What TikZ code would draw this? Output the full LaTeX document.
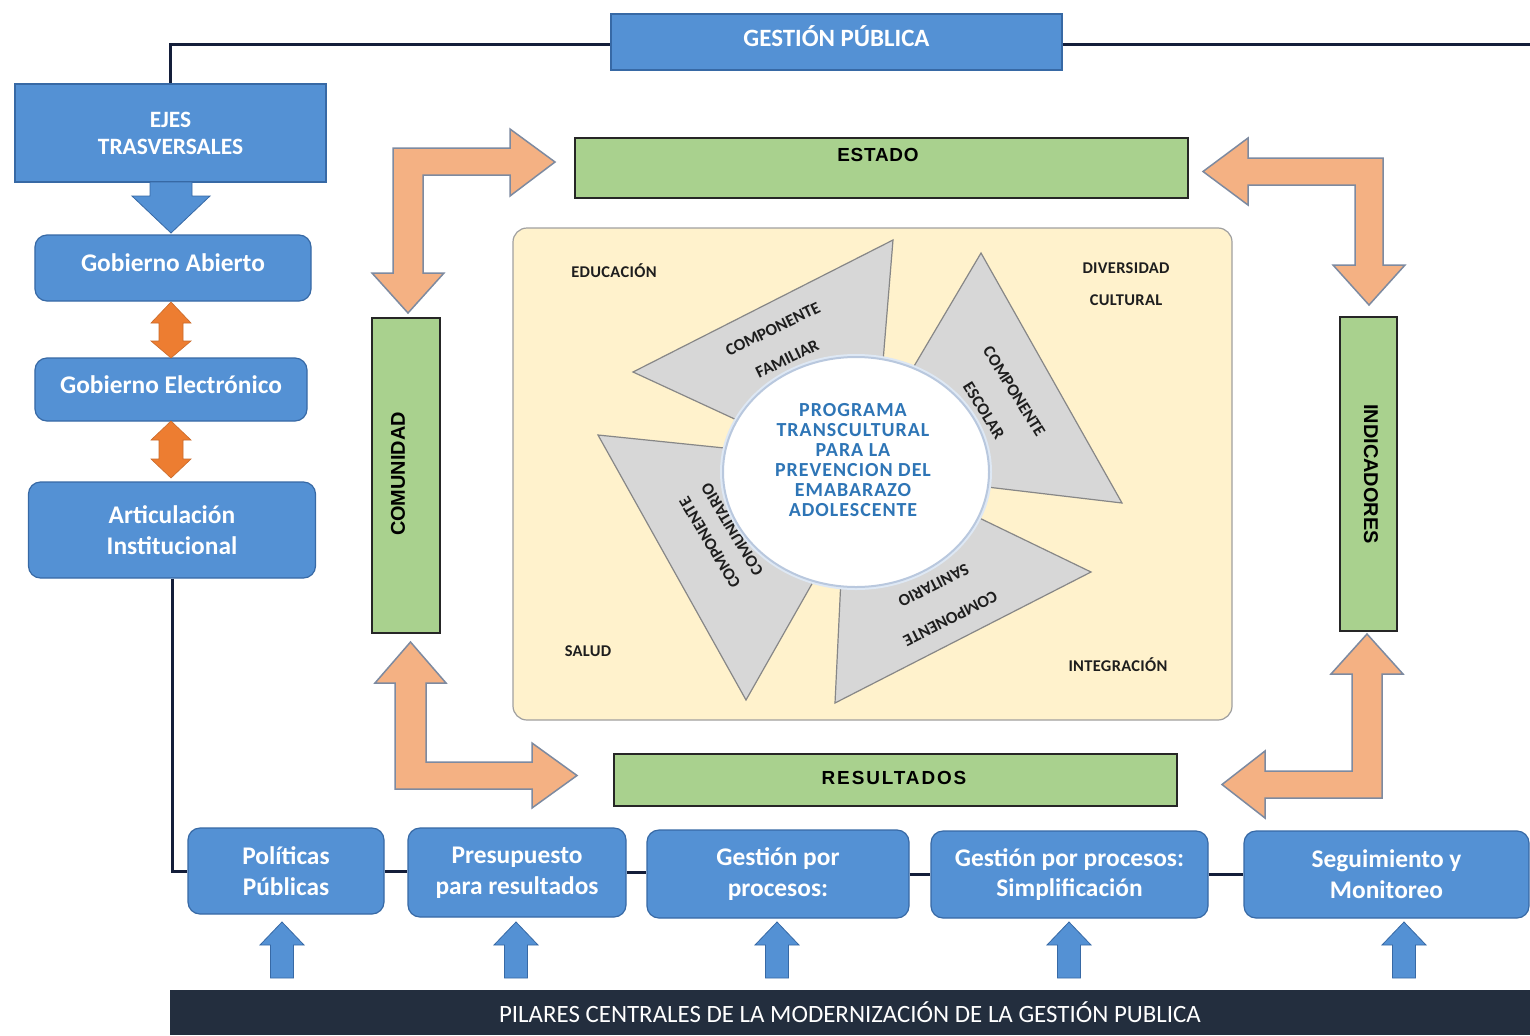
\documentclass[tikz,border=0pt]{standalone}
\usepackage{fontspec}
\setmainfont{Carlito}
\newfontfamily\progfont{Carlito}[LetterSpace=5]
\newfontfamily\panelfont{Carlito}[LetterSpace=2]
\newfontfamily\greenfont{Liberation Sans}[LetterSpace=4]
\newfontfamily\widegreenfont{Liberation Sans}[LetterSpace=10]
\newfontfamily\sidefont{Liberation Sans}
\usetikzlibrary{shapes.geometric}

\definecolor{boxblue}{RGB}{84,145,212}
\definecolor{boxedge}{RGB}{55,105,165}
\definecolor{navy}{RGB}{20,30,58}
\definecolor{orangedeep}{RGB}{237,125,49}
\definecolor{peach}{RGB}{244,177,131}
\definecolor{peachedge}{RGB}{125,138,160}
\definecolor{leaf}{RGB}{169,209,142}
\definecolor{cream}{RGB}{255,242,204}
\definecolor{creamedge}{RGB}{160,160,160}
\definecolor{petal}{RGB}{215,215,215}
\definecolor{petaledge}{RGB}{135,135,135}
\definecolor{hubedge}{RGB}{185,200,222}
\definecolor{hubglow}{RGB}{222,232,244}
\definecolor{progblue}{RGB}{46,117,182}
\definecolor{darkbar}{RGB}{35,46,62}
\definecolor{ink}{RGB}{30,30,30}

% block arrow pointing up: centre x, tip y, head base y, tail y
\newcommand\blockup[4]{%
  \filldraw[bluearrow] (#1-11.5,#4) -- (#1-11.5,#3) -- (#1-22,#3) -- (#1,#2)
    -- (#1+22,#3) -- (#1+11.5,#3) -- (#1+11.5,#4) -- cycle;}
% vertical double block arrow: centre x, top tip y, upper head base, lower head base, bottom tip y
\newcommand\blockupdown[5]{%
  \filldraw[orangearrow] (#1,#2) -- (#1+20,#3) -- (#1+12,#3) -- (#1+12,#4) -- (#1+20,#4)
    -- (#1,#5) -- (#1-20,#4) -- (#1-12,#4) -- (#1-12,#3) -- (#1-20,#3) -- cycle;}

\begin{document}
\begin{tikzpicture}[x=1bp,y=-1bp,
  conn/.style={draw=navy, line width=3bp},
  bluebox/.style={draw=boxedge, line width=1.2bp, fill=boxblue, text=white, align=center,
    inner sep=0pt, font=\fontsize{25.5}{31}\selectfont\bfseries},
  roundblue/.style={bluebox, rounded corners=12bp},
  greenbox/.style={draw=black!85, line width=1.8bp, fill=leaf, inner sep=0pt},
  greenlabel/.style={text=black, font=\greenfont\fontsize{19}{22}\selectfont\bfseries},
  sidelabel/.style={text=black, font=\sidefont\fontsize{20}{24}\selectfont\bfseries},
  panel/.style={draw=creamedge, line width=1.2bp, fill=cream, rounded corners=14bp, inner sep=0pt},
  paneltxt/.style={text=ink, align=center, font=\panelfont\fontsize{16.5}{32}\selectfont\bfseries},
  petalshape/.style={fill=petal, draw=petaledge, line width=1.2bp, line join=miter},
  petaltxt/.style={text=ink, align=center, font=\fontsize{17}{#1}\selectfont\bfseries},
  hub/.style={ellipse, draw=hubedge, line width=2bp, fill=white, inner sep=0pt},
  hubtxt/.style={text=progblue, align=center, font=\progfont\fontsize{20}{20}\selectfont\bfseries},
  peacharrow/.style={fill=peach, draw=peachedge, line width=1.5bp, line join=miter},
  orangearrow/.style={fill=orangedeep, draw=orangedeep!85!black, line width=0.6bp},
  bluearrow/.style={fill=boxblue, draw=boxedge, line width=0.8bp},
  bar/.style={fill=darkbar, inner sep=0pt, text=white, font=\fontsize{25}{30}\selectfont}
]
\useasboundingbox (0,0) rectangle (1530,1035);
\fill[white] (0,0) rectangle (1530,1035);

% ---------- top: public management ----------
\node[bluebox, minimum width=451bp, minimum height=56bp, text depth=12bp,
  font=\fontsize{25}{30}\selectfont\bfseries] (gp) at (836.5,42) {GESTIÓN PÚBLICA};
\coordinate (topend) at (1530,44);

% ---------- left column ----------
\node[bluebox, minimum width=311bp, minimum height=98bp, font=\fontsize{23.5}{27}\selectfont\bfseries]
  (ejes) at (170.5,133) {EJES\\TRASVERSALES};
\node[roundblue, minimum width=276bp, minimum height=66bp, text depth=11bp] (ga) at (173,268) {Gobierno Abierto};
\node[roundblue, minimum width=272bp, minimum height=63bp, text depth=10bp] (ge) at (171,389.5) {Gobierno Electrónico};
\node[roundblue, minimum width=287bp, minimum height=96bp] (ai) at (172,530) {Articulación\\Institucional};

\draw[conn] (ejes.north) |- (topend -| gp.west);
\draw[conn] (topend -| gp.east) -- (topend);

\filldraw[bluearrow] (150,182) -- (150,196) -- (132,196) -- (171,233) -- (210,196) -- (192,196) -- (192,182) -- cycle;
\blockupdown{171}{302}{323}{341}{358}
\blockupdown{171}{421}{440}{459}{478}

% ---------- bottom row ----------
\node[roundblue, minimum width=196bp, minimum height=86bp] (pol) at (286,871) {Políticas\\Públicas};
\node[roundblue, minimum width=218bp, minimum height=89bp] (pre) at (517,872.5) {Presupuesto\\para resultados};
\node[roundblue, minimum width=262bp, minimum height=88bp] (gpp) at (778,874) {Gestión por\\procesos:};
\node[roundblue, minimum width=277bp, minimum height=87bp] (gps) at (1069.5,874.5) {Gestión por procesos:\\Simplificación};
\node[roundblue, minimum width=285bp, minimum height=87bp] (seg) at (1386.5,874.5) {Seguimiento y\\Monitoreo};

\draw[conn] (ai.south) |- (pol.west);
\draw[conn] (pol.east) -- (pol.east -| pre.west);
\draw[conn] (pre.east) -- (pre.east -| gpp.west);
\draw[conn] (gpp.east) -- (gpp.east -| gps.west);
\draw[conn] (gps.east) -- (gps.east -| seg.west);

\node[bar, minimum width=1360bp, minimum height=45bp] (pilares) at (850,1012.5)
  {PILARES CENTRALES DE LA MODERNIZACIÓN DE LA GESTIÓN PUBLICA};

\blockup{282}{922}{945}{978}
\blockup{516}{922}{945}{978}
\blockup{777}{922}{945}{978}
\blockup{1069}{922}{945}{978}
\blockup{1404}{922}{945}{978}

% ---------- central frame ----------
\node[greenbox, minimum width=613bp, minimum height=60bp] (estado) at (881.5,168) {};
\node[greenlabel] (estadotxt) at (878,155) {ESTADO};
\node[greenbox, minimum width=563bp, minimum height=52bp] (resultados) at (895.5,780) {};
\node[greenlabel, font=\widegreenfont\fontsize{19}{22}\selectfont\bfseries] (resultadostxt) at (894,778) {RESULTADOS};
\node[greenbox, minimum width=68bp, minimum height=315bp] (comunidad) at (406,475.5) {};
\node[sidelabel, rotate=90] (comunidadtxt) at (398,474) {COMUNIDAD};
\node[greenbox, minimum width=57bp, minimum height=314bp] (indicadores) at (1368.5,474) {};
\node[sidelabel, rotate=-90] (indicadorestxt) at (1371,474) {INDICADORES};

% bent block arrows linking the four frame boxes
\filldraw[peacharrow] (393,148) -- (510,148) -- (510,129) -- (555,162) -- (510,196) -- (510,175)
  -- (423,175) -- (423,273) -- (444,273) -- (408,313) -- (372,273) -- (393,273) -- cycle;
\filldraw[peacharrow] (1383,158) -- (1248,158) -- (1248,138) -- (1203,171.5) -- (1248,205) -- (1248,185)
  -- (1355,185) -- (1355,265) -- (1333,265) -- (1369,305) -- (1405,265) -- (1383,265) -- cycle;
\filldraw[peacharrow] (395,789) -- (395,683) -- (375,683) -- (410.5,642) -- (446,683) -- (426,683)
  -- (426,762) -- (532,762) -- (532,743) -- (577,775.5) -- (532,808) -- (532,789) -- cycle;
\filldraw[peacharrow] (1382,798) -- (1382,674) -- (1403,674) -- (1367,634) -- (1331,674) -- (1352,674)
  -- (1352,771) -- (1265,771) -- (1265,751) -- (1222,784.5) -- (1265,818) -- (1265,798) -- cycle;

% ---------- inner panel ----------
\node[panel, minimum width=719bp, minimum height=492bp] (panelbox) at (872.5,474) {};
\node[paneltxt] (edu) at (614,271) {EDUCACIÓN};
\node[paneltxt] (div) at (1126,284) {DIVERSIDAD\\CULTURAL};
\node[paneltxt] (sal) at (588,651) {SALUD};
\node[paneltxt] (integ) at (1118,665) {INTEGRACIÓN};

% pinwheel blades
\filldraw[petalshape] (633,372) -- (893,240) -- (873,483) -- cycle;
\filldraw[petalshape] (981,253) -- (1122,503) -- (852,471) -- cycle;
\filldraw[petalshape] (598,435) -- (880,464) -- (746,700) -- cycle;
\filldraw[petalshape] (1091,572) -- (835,703) -- (847,454) -- cycle;

\node[petaltxt=33, rotate=26] (famtxt) at (780,344) {COMPONENTE\\FAMILIAR};
\node[petaltxt=36, rotate=-58] (esctxt) at (999,401) {COMPONENTE\\ESCOLAR};
\node[petaltxt=26, rotate=121] (comtxt) at (721,536) {COMPONENTE\\COMUNITARIO};
\node[petaltxt=37, rotate=207] (santxt) at (942,602) {COMPONENTE\\SANITARIO};

% hub
\node[ellipse, draw=hubglow, line width=6bp, minimum width=266bp, minimum height=230bp] (hubglowring) at (856,472) {};
\node[hub, minimum width=266bp, minimum height=230bp] (hub) at (856,472) {};
\node[hubtxt] (hubtxt) at (853,460) {PROGRAMA\\TRANSCULTURAL\\PARA LA\\PREVENCION DEL\\EMABARAZO\\ADOLESCENTE};
\end{tikzpicture}
\end{document}
